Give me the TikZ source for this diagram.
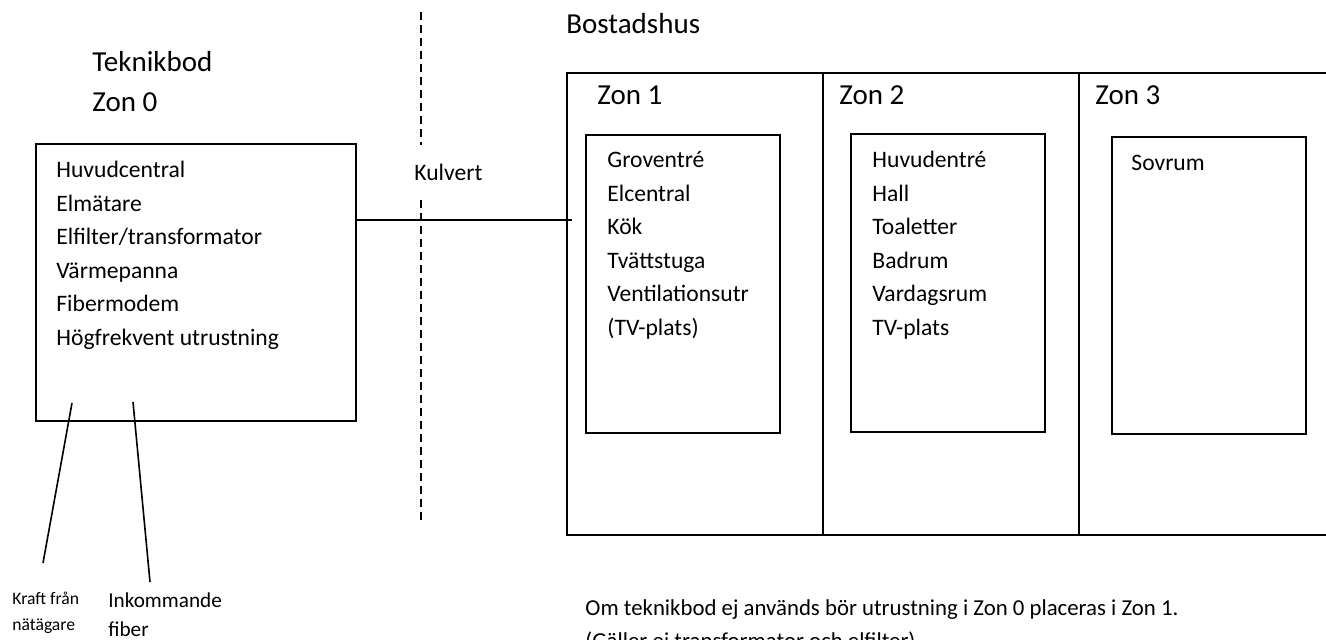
\documentclass[tikz,border=0pt]{standalone}
\usepackage{fontspec}
\setmainfont{Carlito}
\usetikzlibrary{positioning}

\tikzset{
  rumbox/.style={draw, line width=0.8pt, anchor=north west, inner sep=0pt},
  zonlinje/.style={line width=1.1pt},
  rubrik/.style={font=\fontsize{14.5}{17}\selectfont, anchor=base west, inner sep=0pt},
  post/.style={font=\fontsize{11.8}{14}\selectfont, anchor=base west, inner sep=0pt},
  notpost/.style={font=\fontsize{11.4}{14}\selectfont, anchor=base west, inner sep=0pt},
  litenpost/.style={font=\fontsize{8.8}{10}\selectfont, anchor=base west, inner sep=0pt},
  mellanpost/.style={font=\fontsize{10.6}{12}\selectfont, anchor=base west, inner sep=0pt},
  ledning/.style={line width=0.6pt},
  grans/.style={line width=1pt, dash pattern=on 4pt off 2.5pt}
}

\begin{document}
\begin{tikzpicture}[x=0.5pt, y=-0.5pt]
\useasboundingbox (0,0) rectangle (1326,639);

% Teknikbod
\node[rubrik] (teknikbod) at (92,71) {Teknikbod};
\node[rubrik] (zon0) at (92,111) {Zon 0};
\node[rumbox, minimum width=160pt, minimum height=138.5pt] (tekbod) at (35,143) {};
\foreach \t [count=\i] in {Huvudcentral, Elmätare, Elfilter/transformator, Värmepanna, Fibermodem, Högfrekvent utrustning}
  \node[post] (tek\i) at (56,144+33.5*\i) {\t};

% Inkommande
\coordinate (kraftA) at (72,403);
\coordinate (kraftB) at (43,563);
\coordinate (fiberA) at (133,402);
\coordinate (fiberB) at (150,582);
\draw[line width=0.8pt] (kraftA) -- (kraftB);
\draw[line width=0.8pt] (fiberA) -- (fiberB);
\node[litenpost] (kraft1) at (12,604) {Kraft från};
\node[litenpost] (kraft2) at (12,630) {nätägare};
\node[mellanpost] (fiber1) at (108,607) {Inkommande};
\node[mellanpost] (fiber2) at (108,636) {fiber};

% Kulvert
\coordinate (gransA) at (421,12);
\coordinate (gransB) at (421,145);
\coordinate (gransC) at (421,200);
\coordinate (gransD) at (421,523);
\draw[grans] (gransA) -- (gransB);
\draw[grans] (gransC) -- (gransD);
\node[post] (kulvert) at (414,180.5) {Kulvert};
\coordinate (kulvend) at (572,220);
\draw[ledning] (tekbod.east |- kulvend) -- (kulvend);

% Bostadshus
\node[rubrik] (bostadshus) at (566,33) {Bostadshus};
\draw[zonlinje] (567,73) rectangle (1335,535);
\draw[zonlinje] (823,73) -- (823,535);
\draw[zonlinje] (1079,73) -- (1079,535);
\node[rubrik] (zon1) at (597,104) {Zon 1};
\node[rubrik] (zon2) at (839,104) {Zon 2};
\node[rubrik] (zon3) at (1095,104) {Zon 3};

\node[rumbox, minimum width=97pt, minimum height=149pt] (rum1) at (585,134) {};
\node[rumbox, minimum width=97pt, minimum height=149pt] (rum2) at (850,133) {};
\node[rumbox, minimum width=97pt, minimum height=148.5pt] (rum3) at (1111,136) {};

\foreach \t [count=\i] in {Groventré, Elcentral, Kök, Tvättstuga, Ventilationsutr, (TV-plats)}
  \node[post] (z1r\i) at (607,134+33.5*\i) {\t};
\foreach \t [count=\i] in {Huvudentré, Hall, Toaletter, Badrum, Vardagsrum, TV-plats}
  \node[post] (z2r\i) at (872,134+33.5*\i) {\t};
\node[post] (z3r1) at (1131,170) {Sovrum};

% Not
\node[notpost] (not1) at (585,615) {Om teknikbod ej används bör utrustning i Zon 0 placeras i Zon 1.};
\node[notpost] (not2) at (585,648) {(Gäller ej transformator och elfilter)};
\end{tikzpicture}
\end{document}
